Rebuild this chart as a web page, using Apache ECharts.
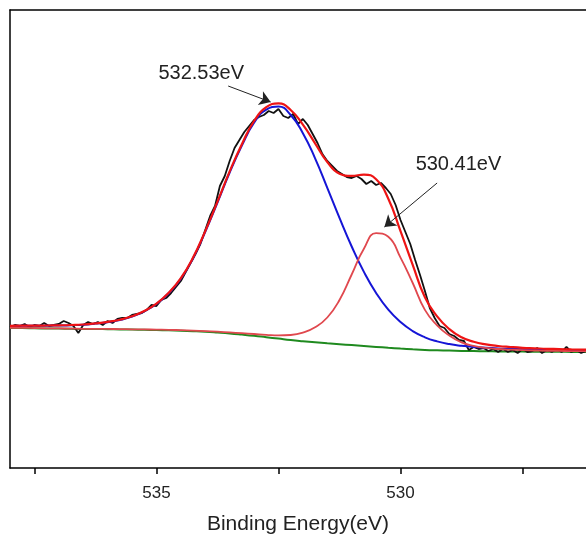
<!DOCTYPE html>
<html><head><meta charset="utf-8">
<script src="https://cdn.jsdelivr.net/npm/echarts@6/dist/echarts.min.js"></script>
<style>html,body{margin:0;padding:0;background:#fff}#c{width:586px;height:539px}</style>
</head><body><div id="c"></div>
<script>
// Binding energy grid for the fitted curves (eV), 0.25 eV steps
const fitEnergy = [538,537.75,537.5,537.25,537,536.75,536.5,536.25,536,535.75,535.5,535.25,535,534.75,534.5,534.25,534,533.75,533.5,533.25,533,532.75,532.5,532.25,532,531.75,531.5,531.25,531,530.75,530.5,530.25,530,529.75,529.5,529.25,529,528.75,528.5,528.25,528,527.75,527.5,527.25,527,526.75,526.5,526.25,526];
// Shirley background (green)
const background = [140,140,139.7,139.5,139.4,139.2,139,139,138.8,138.6,138.4,138.2,138,137.7,137.3,136.8,136.2,135.4,134.5,133.4,132.2,130.8,129.4,128,126.8,125.7,124.7,123.8,122.9,122,121.1,120.2,119.4,118.7,118.1,117.7,117.4,117.1,116.9,116.7,116.6,116.5,116.4,116.3,116.2,116.2,116.1,116.1,116];
// Component 532.53 eV (blue)
const peak1 = [142.1,142.2,142.2,142.3,142.5,142.8,143.3,144.4,145.8,148,151.4,156.7,164,174.7,189.3,209.8,236.2,265.4,295.5,322.4,345.2,358.4,361.4,353,334.8,309.7,280.2,250.1,221.5,196.1,175,158.3,145.9,136.9,130.7,126.6,123.9,122.2,121,120.2,119.6,119.2,118.8,118.5,118.2,118.05,117.8,117.7,117.5];
// Component 530.41 eV (light red)
const peak2 = [140.1,140.2,139.9,139.7,139.6,139.4,139.2,139.2,139.1,138.9,138.7,138.6,138.4,138.2,137.8,137.4,136.9,136.3,135.6,134.8,134,133.2,132.6,133,135.3,140.7,150.5,168,193.5,219.3,234.8,231.2,210.4,185,158.1,142.7,132.4,125.6,122.1,120.1,119,118.3,117.8,117.5,117.2,117.1,116.9,116.8,116.6];
// Fitted envelope (red)
const envelope = [142.2,142.4,142.4,142.5,142.7,143,143.5,144.6,146.1,148.3,151.7,157,164.4,175.2,189.8,210.4,236.9,266.3,296.6,323.8,347,360.8,364.6,358,343.3,324.7,306,294.3,292.1,293.4,288.7,269.3,236.9,203.2,170.7,151.6,138.9,130.7,126.2,123.6,122,121,120.2,119.7,119.2,118.95,118.6,118.4,118.1];
// Raw spectrum (black), 538.0 -> 526.0 eV in 0.1 eV steps
const rawStart = 538.0, rawStep = 0.1;
const rawIntensity = [
141,143,142,144,141,143,142,145,142,143,
144,147,145,142,135,143,146,144,146,143,
147,145,149,150,150,153,154,155,158,163,
162,168,170,175,181,187,196,205,214,224,
238,252,262,282,292,307,320,328,336,342,
348,351,353,357,355,359,352,350,354,344,
349,343,334,325,314,307,302,297,294,291,
290,292,289,284,287,283,285,280,274,263,
248,236,224,208,193,177,160,150,142,140,
134,132,128,127,118,121,119,120,117,119,
116,119,116,118,115,119,116,117,120,115,
118,116,119,116,121,116,118,115,117,116,
118];
// Axis ticks / labels
const majorTicks = [530, 535];
const allTicks = [527.5, 530, 532.5, 535, 537.5];
// Annotations: [label, textAnchor[E,I], arrowStart[E,I], arrowEnd[E,I]]
const annotations = [
  ['532.53eV', [534.95, 394], [533.53, 382], [532.66, 366]],
  ['530.41eV', [529.68, 303], [529.25, 285], [530.33, 241]]
];

const zip = (xs, ys) => xs.map((x, i) => [x, ys[i]]);
const rawData = rawIntensity.map((v, i) => [+(rawStart - i * rawStep).toFixed(1), v]);
const FONT = '"Liberation Sans", Arial, sans-serif';
const axisLine = {show: true, lineStyle: {color: '#000', width: 1.5}};

const chart = echarts.init(document.getElementById('c'), null, {renderer: 'canvas'});
chart.setOption({
  animation: false,
  backgroundColor: '#fff',
  grid: {left: 10, right: 0, top: 10, bottom: 71, containLabel: false, outerBoundsMode: 'none'},
  xAxis: [{
    type: 'value', inverse: true, min: 526.2, max: 538, position: 'bottom',
    axisLine: axisLine,
    axisTick: {show: true, length: 6, customValues: allTicks, lineStyle: {color: '#000', width: 1.5}},
    axisLabel: {customValues: majorTicks, margin: 17, fontSize: 17, color: '#222', fontFamily: FONT},
    splitLine: {show: false},
    name: 'Binding Energy(eV)', nameLocation: 'middle', nameGap: 46,
    nameTextStyle: {fontSize: 21, color: '#222', fontFamily: FONT}
  }, {
    type: 'value', inverse: true, min: 526.2, max: 538, position: 'top',
    axisLine: axisLine, axisTick: {show: false}, axisLabel: {show: false}, splitLine: {show: false}
  }],
  yAxis: {
    type: 'value', min: 0, max: 458,
    axisLine: axisLine, axisTick: {show: false}, axisLabel: {show: false}, splitLine: {show: false}
  },
  series: [
    {type: 'line', data: zip(fitEnergy, background), smooth: true, symbol: 'none',
     lineStyle: {color: '#1f8a1f', width: 2}},
    {type: 'line', data: rawData, symbol: 'none', lineStyle: {color: '#111', width: 1.8}},
    {type: 'line', data: zip(fitEnergy, peak1), smooth: true, symbol: 'none',
     lineStyle: {color: '#1515d6', width: 2}},
    {type: 'line', data: zip(fitEnergy, peak2), smooth: true, symbol: 'none',
     lineStyle: {color: '#e0484e', width: 1.8}},
    {type: 'line', data: zip(fitEnergy, envelope), smooth: true, symbol: 'none',
     lineStyle: {color: '#ee1414', width: 2.2}, z: 3},
    {type: 'line', data: [], z: 5,
     markLine: {
       silent: true, symbol: ['none', 'arrow'], symbolSize: 11,
       label: {show: false},
       lineStyle: {color: '#222', width: 1, type: 'solid'},
       itemStyle: {color: '#111'},
       data: annotations.map(a => [{coord: a[2]}, {coord: a[3]}])
     },
     markPoint: {
       silent: true, symbol: 'circle', symbolSize: 1,
       itemStyle: {color: 'rgba(0,0,0,0)'},
       label: {show: true, position: [0, 0], align: 'left', verticalAlign: 'middle',
               fontSize: 20, color: '#222', fontFamily: FONT},
       data: annotations.map(a => ({coord: a[1], value: a[0], label: {formatter: a[0]}}))
     }}
  ]
});
</script></body></html>
